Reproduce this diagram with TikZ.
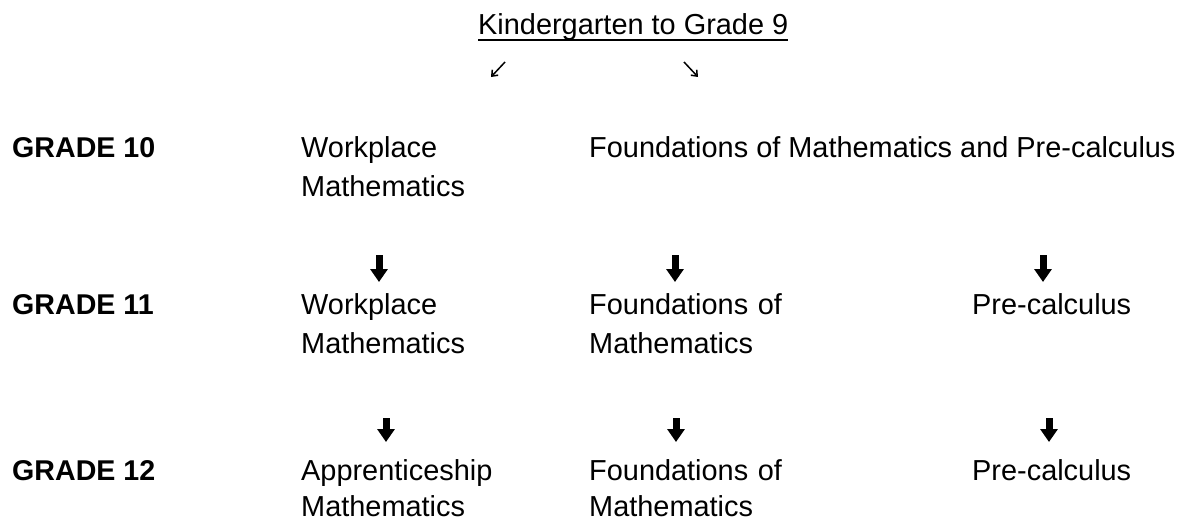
\documentclass[tikz,border=0pt]{standalone}
\usepackage{fontspec}
\setmainfont{Liberation Sans}
\usetikzlibrary{arrows.meta}
\begin{document}
\begin{tikzpicture}[x=1pt,y=-1pt,
  lbl/.style={anchor=base west,inner sep=0pt,font=\fontsize{28.9}{39}\selectfont},
  grade/.style={lbl,font=\fontsize{28.6}{39}\selectfont\bfseries},
  two/.style={lbl,text width=260pt,align=left},
  last/.style={two,text depth=0pt},
  downarr/.style={line width=7pt,-{Triangle[width=17pt,length=13pt]}},
  thinarr/.style={line width=1.5pt,-{Straight Barb[length=5pt,width=8pt]}}]
\useasboundingbox (0,0) rectangle (1185,519);

% top
\node[lbl] (kg) at (478,35) {Kindergarten to Grade 9};
\draw[line width=2pt] ([yshift=-5.5pt]kg.base west) -- ([yshift=-5.5pt]kg.base east);
\coordinate (l1) at (505,62); \coordinate (l2) at (491,77);
\coordinate (r1) at (684,62); \coordinate (r2) at (698,77);
\draw[thinarr] (l1) -- (l2);
\draw[thinarr] (r1) -- (r2);

% grade 10
\node[grade] (g10) at (12,157) {GRADE 10};
\node[two] (w10) at (301,157) {Workplace\\Mathematics};
\node[lbl] (f10) at (589,157) {Foundations of Mathematics and Pre-calculus};

% arrows row 1
\coordinate (a1s) at (379,255); \coordinate (a1e) at (379,282);
\coordinate (b1s) at (675,255); \coordinate (b1e) at (675,282);
\coordinate (c1s) at (1043,255); \coordinate (c1e) at (1043,282);
\draw[downarr] (a1s) -- (a1e);
\draw[downarr] (b1s) -- (b1e);
\draw[downarr] (c1s) -- (c1e);

% grade 11
\node[grade] (g11) at (12,314) {GRADE 11};
\node[two] (w11) at (301,314) {Workplace\\Mathematics};
\node[two] (f11) at (589,314) {Foundations of\\Mathematics};
\node[lbl] (p11) at (972,314) {Pre-calculus};

% arrows row 2
\coordinate (a2s) at (386,418); \coordinate (a2e) at (386,442);
\coordinate (b2s) at (676,418); \coordinate (b2e) at (676,442);
\coordinate (c2s) at (1049,418); \coordinate (c2e) at (1049,442);
\draw[downarr] (a2s) -- (a2e);
\draw[downarr] (b2s) -- (b2e);
\draw[downarr] (c2s) -- (c2e);

% grade 12
\node[grade] (g12) at (12,480) {GRADE 12};
\node[last] (ap12) at (301,480) {Apprenticeship\\[-3pt]Mathematics};
\node[last] (f12) at (589,480) {Foundations of\\[-3pt]Mathematics};
\node[lbl] (p12) at (972,480) {Pre-calculus};
\end{tikzpicture}
\end{document}
